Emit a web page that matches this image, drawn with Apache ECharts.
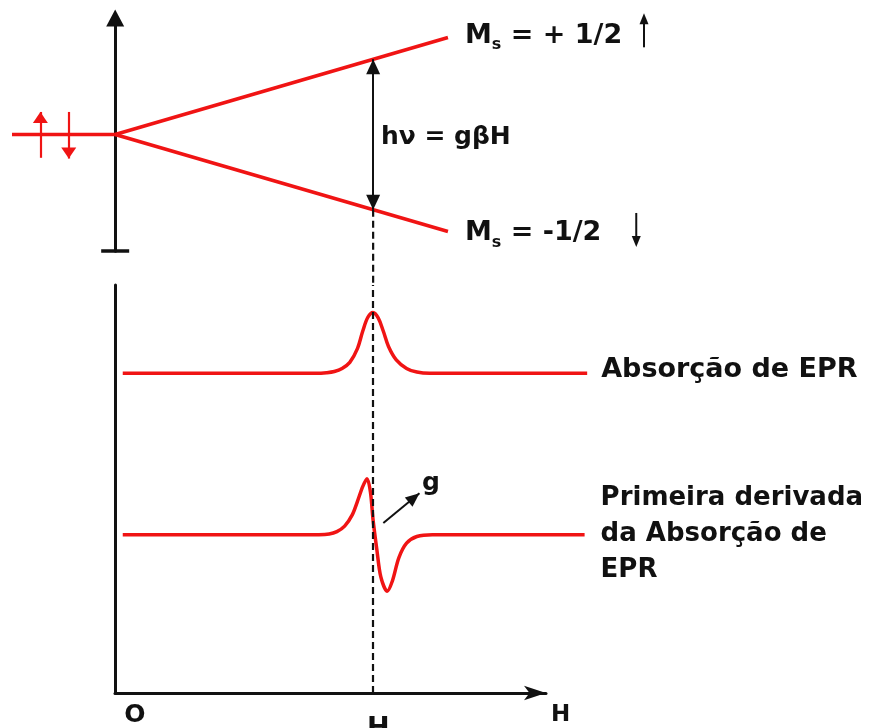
<!DOCTYPE html>
<html>
<head>
<meta charset="utf-8">
<title>EPR</title>
<script src="https://cdn.jsdelivr.net/npm/echarts@6/dist/echarts.min.js"></script>
<style>
  html, body { margin: 0; padding: 0; background: #ffffff; }
  #chart { width: 871px; height: 728px; }
</style>
</head>
<body>
<div id="chart"></div>
<script>
// ---------------------------------------------------------------
// Data. Field H is expressed in units of the resonance field H0.
// ---------------------------------------------------------------
const resonanceField = 1.0;

// Zeeman splitting of an S = 1/2 level: E = Ms·gβH (gβ = 1 here)
const zeroFieldLevel = [[-0.4, 0], [0, 0]];
const levelField = [0, 1.29];
const upperLevelEnergy = [0, 0.645];   // Ms = +1/2
const lowerLevelEnergy = [0, -0.645];  // Ms = -1/2
const resonanceEnergy = [0.5, -0.5];   // both levels at H0; gap = hν

// EPR absorption line, normalised to its peak
const absorptionField  = [0.03, 0.78, 0.82, 0.85, 0.88, 0.91, 0.94, 0.96, 0.98, 1.00, 1.02, 1.04, 1.06, 1.09, 1.13, 1.17, 1.22, 1.83];
const absorptionSignal = [0,    0,    0.01, 0.03, 0.08, 0.18, 0.41, 0.69, 0.92, 1.00, 0.91, 0.69, 0.44, 0.22, 0.08, 0.02, 0,    0];

// First derivative of the absorption, same units
const derivativeField  = [0.03, 0.79, 0.83, 0.86, 0.89, 0.92, 0.94, 0.96, 0.977, 0.99, 1.00, 1.015, 1.03, 1.055, 1.075, 1.10, 1.13, 1.17, 1.23, 1.82];
const derivativeSignal = [0,    0,    0.01, 0.05, 0.14, 0.33, 0.55, 0.79, 0.92,  0.70, 0.25, -0.25, -0.69, -0.93, -0.76, -0.38, -0.14, -0.03, 0,   0];

// Texts
const upperLevelText = '{m|M}{s|s}{t| = + 1/2}';
const lowerLevelText = '{m|M}{s|s}{t| = -1/2}';
const transitionText = 'hν = gβH';
const absorptionText = 'Absorção de EPR';
const derivativeText = 'Primeira derivada\nda Absorção de\nEPR';
const gFactorText = 'g';
const fieldAxisName = '{n|H}';

// ---------------------------------------------------------------
// Layout and style
// ---------------------------------------------------------------
const RED = '#f01414';
const INK = '#111111';
const FONT = 'DejaVu Sans';
const textBase = { color: INK, fontFamily: FONT, fontWeight: 'bold' };

// vertical offsets of the two traces in the spectrum panel
const traceBaseline = { absorption: 5.25, derivative: 2.6 };

// annotation anchors (data units of their panel)
const spinArrows = [
  { field: -0.29, from: -0.155, to: 0.15 },  // ↑ electron
  { field: -0.18, from: 0.15, to: -0.16 }    // ↓ electron
];
const levelMarkers = [
  { field: 2.05, from: 0.58, to: 0.77, rotate: 0 },      // ↑ beside Ms = +1/2
  { field: 2.02, from: -0.522, to: -0.712, rotate: 180 } // ↓ beside Ms = -1/2
];
const transitionAnchor = [1.03, -0.02];
const gArrow = { from: [1.04, 0.19], to: [1.18, 0.68] };  // relative to derivative baseline
const dropLineEnd = -1.0;  // lower end of the H0 guide in the level panel

const zip = (xs, ys, off = 0) => xs.map((x, i) => [x, ys[i] + off]);

const levelLabelRich = {
  m: { ...textBase, fontSize: 27, padding: [0, 0, 4, 0] },
  s: { ...textBase, fontSize: 16, verticalAlign: 'bottom' },
  t: { ...textBase, fontSize: 27, padding: [0, 0, 4, 0] }
};

const hiddenAxis = (gridIndex, min, max) => ({
  gridIndex, type: 'value', min, max, show: false, axisLine: { onZero: false }
});

const plainAxisParts = {
  axisTick: { show: false },
  splitLine: { show: false },
  axisLabel: { show: false }
};

const AXIS_W = 3;
const TRACE_W = 3.5;

const option = {
  animation: false,
  backgroundColor: '#ffffff',
  textStyle: { fontFamily: FONT },
  grid: [
    { left: 12, right: 0, top: 18, height: 233, containLabel: false, outerBoundsMode: 'none' },
    { left: 115, top: 285, width: 431, height: 408, containLabel: false, outerBoundsMode: 'none' },
    { left: 115, right: 0, top: 285, height: 408, containLabel: false, outerBoundsMode: 'none' }
  ],
  xAxis: [
    hiddenAxis(0, -0.4, 2.93),
    {
      gridIndex: 1, type: 'value', min: 0, max: 1.67,
      name: fieldAxisName, nameLocation: 'end', nameGap: 5,
      nameTextStyle: {
        ...textBase, fontSize: 23, align: 'left', verticalAlign: 'middle',
        rich: { n: { ...textBase, fontSize: 23, padding: [44, 0, 0, 0] } }
      },
      axisLine: {
        show: true, onZero: false,
        symbol: ['none', 'arrow'], symbolSize: [11, 22],
        lineStyle: { color: INK, width: AXIS_W }
      },
      axisTick: { show: false },
      splitLine: { show: false },
      axisLabel: {
        show: true,
        customValues: [0, resonanceField],
        margin: 10,
        formatter: v => (v === 0 ? '{o|O}' : '{h|H}{sub|o}'),
        rich: {
          o: { ...textBase, fontSize: 25, padding: [0, 0, 0, 40] },
          h: { ...textBase, fontSize: 27, padding: [12, 0, 4, 22] },
          sub: { ...textBase, fontSize: 17, verticalAlign: 'bottom' }
        }
      }
    },
    hiddenAxis(2, 0, 2.93)
  ],
  yAxis: [
    {
      gridIndex: 0, type: 'value', min: -0.775, max: 0.775,
      axisLine: {
        show: true, onZero: true, onZeroAxisIndex: 0,
        symbol: ['none', 'triangle'], symbolSize: [18, 17],
        lineStyle: { color: INK, width: AXIS_W }
      },
      ...plainAxisParts
    },
    {
      gridIndex: 0, type: 'value', min: -0.775, max: 0.775,
      axisLine: {
        show: true, onZero: true, onZeroAxisIndex: 0,
        symbol: ['rect', 'none'], symbolSize: [28, 3.5],
        lineStyle: { color: INK, width: AXIS_W }
      },
      ...plainAxisParts
    },
    {
      gridIndex: 1, type: 'value', min: 0, max: 6.7,
      axisLine: { show: true, onZero: false, lineStyle: { color: INK, width: AXIS_W } },
      ...plainAxisParts
    },
    hiddenAxis(2, 0, 6.7)
  ],
  series: [
    // zero-field level with its two electrons
    {
      name: 'S = 1/2', type: 'line', xAxisIndex: 0, yAxisIndex: 0,
      symbol: 'none', silent: true,
      lineStyle: { color: RED, width: TRACE_W },
      data: zeroFieldLevel,
      markLine: {
        silent: true, animation: false,
        symbol: ['none', 'triangle'], symbolSize: [15, 11], symbolOffset: [[0, 0], [0, 5.5]],
        label: { show: false },
        lineStyle: { color: RED, width: 2.2, type: 'solid' },
        data: spinArrows.map(a => [{ coord: [a.field, a.from] }, { coord: [a.field, a.to] }])
      }
    },
    // Ms = +1/2
    {
      name: 'Ms = +1/2', type: 'line', xAxisIndex: 0, yAxisIndex: 0,
      symbol: 'none', silent: true,
      lineStyle: { color: RED, width: TRACE_W },
      data: zip(levelField, upperLevelEnergy),
      endLabel: {
        show: true, formatter: upperLevelText, distance: 17, offset: [0, 0],
        ...textBase, rich: levelLabelRich
      },
      markLine: {
        silent: true, animation: false,
        symbol: ['triangle', 'triangle'], symbolSize: [14, 15], symbolOffset: [[0, 7.5], [0, 7.5]],
        label: { show: false },
        lineStyle: { color: INK, width: 2, type: 'solid' },
        data: [[{ coord: [resonanceField, resonanceEnergy[0]] }, { coord: [resonanceField, resonanceEnergy[1]] }]]
      }
    },
    // Ms = -1/2
    {
      name: 'Ms = -1/2', type: 'line', xAxisIndex: 0, yAxisIndex: 0,
      symbol: 'none', silent: true,
      lineStyle: { color: RED, width: TRACE_W },
      data: zip(levelField, lowerLevelEnergy),
      endLabel: {
        show: true, formatter: lowerLevelText, distance: 17, offset: [0, 4],
        ...textBase, rich: levelLabelRich
      }
    },
    // guide from the lower level down to the spectrum panel
    {
      type: 'line', xAxisIndex: 0, yAxisIndex: 0, clip: false, silent: true,
      symbol: 'none',
      lineStyle: { color: INK, width: 2.2, type: [7, 4] },
      data: [[resonanceField, resonanceEnergy[1]], [resonanceField, dropLineEnd]]
    },
    // spin direction markers beside the level labels
    ...levelMarkers.map(m => ({
      type: 'line', xAxisIndex: 0, yAxisIndex: 0, clip: false, silent: true,
      symbol: 'triangle', symbolSize: [9, 11], symbolRotate: m.rotate, showSymbol: true,
      itemStyle: { color: INK },
      lineStyle: { color: INK, width: 2 },
      data: [{ value: [m.field, m.from], symbol: 'none' }, [m.field, m.to]]
    })),
    // resonance condition text
    {
      type: 'line', xAxisIndex: 0, yAxisIndex: 0, silent: true,
      symbol: 'none', lineStyle: { width: 0 },
      data: [transitionAnchor],
      endLabel: {
        show: true, formatter: transitionText, distance: 0,
        ...textBase, fontSize: 25
      }
    },
    // absorption
    {
      name: absorptionText, type: 'line', xAxisIndex: 2, yAxisIndex: 3,
      symbol: 'none', silent: true, smooth: 0.35,
      lineStyle: { color: RED, width: TRACE_W },
      data: zip(absorptionField, absorptionSignal, traceBaseline.absorption),
      endLabel: {
        show: true, formatter: absorptionText, distance: 14, offset: [0, -3],
        ...textBase, fontSize: 27
      },
      markLine: {
        silent: true, animation: false, symbol: 'none',
        label: { show: false },
        lineStyle: { color: INK, width: 2.2, type: [7, 4] },
        data: [{ xAxis: resonanceField }]
      }
    },
    // first derivative
    {
      name: 'Primeira derivada', type: 'line', xAxisIndex: 2, yAxisIndex: 3,
      symbol: 'none', silent: true, smooth: 0.3,
      lineStyle: { color: RED, width: TRACE_W },
      data: zip(derivativeField, derivativeSignal, traceBaseline.derivative),
      endLabel: {
        show: true, formatter: derivativeText, distance: 16, offset: [0, 0],
        ...textBase, fontSize: 26, lineHeight: 36, align: 'left'
      },
      markLine: {
        silent: true, animation: false,
        symbol: ['none', 'triangle'], symbolSize: [12, 14], symbolOffset: [[0, 0], [0, 7]],
        lineStyle: { color: INK, width: 2, type: 'solid' },
        label: { show: true, position: 'end', distance: 15, formatter: gFactorText, ...textBase, fontSize: 25 },
        data: [[
          { coord: [gArrow.from[0], gArrow.from[1] + traceBaseline.derivative] },
          { coord: [gArrow.to[0], gArrow.to[1] + traceBaseline.derivative] }
        ]]
      }
    }
  ]
};

const chart = echarts.init(document.getElementById('chart'), null, { renderer: 'canvas' });
chart.setOption(option);
</script>
</body>
</html>
